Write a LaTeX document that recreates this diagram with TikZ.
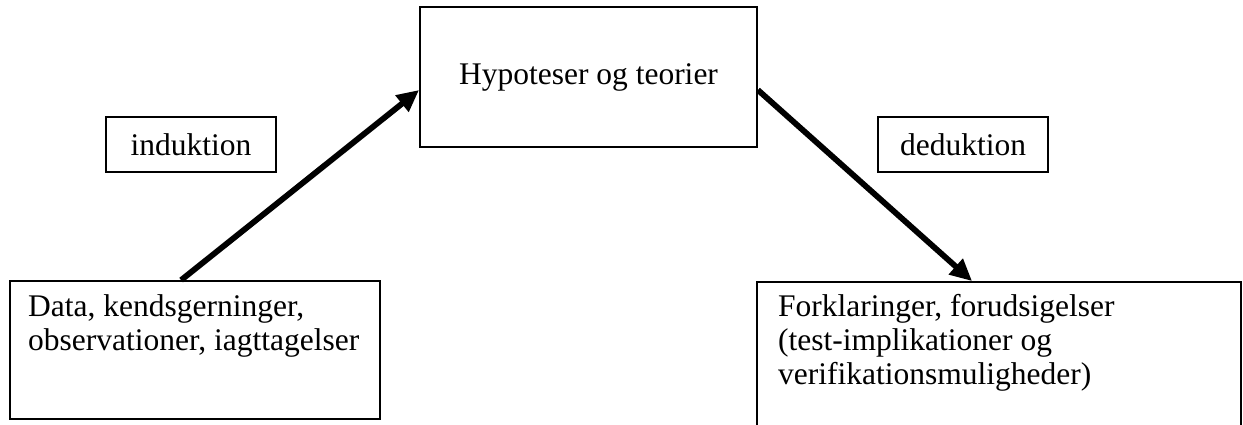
\documentclass[tikz,border=0pt]{standalone}
\usepackage{fontspec}
\setmainfont{Liberation Serif}
\usetikzlibrary{arrows.meta,calc}
\begin{document}
\begin{tikzpicture}[x=1pt,y=-1pt,
  every node/.style={font={\fontsize{31.5}{34}\selectfont}},
  frame/.style={draw=black,line width=1.8pt,rectangle,inner sep=0pt},
  label box/.style={frame,minimum width=170pt,minimum height=55pt},
  txt/.style={inner sep=0pt,align=left,anchor=north west},
  flow/.style={line width=5.8pt,-{Triangle[length=22pt,width=20pt]}}]
  \clip (0,0) rectangle (1243,425);
  \useasboundingbox (0,0) rectangle (1243,425);

  % main boxes
  \node[frame,minimum width=337pt,minimum height=140pt] (hyp) at (588.5,77) {Hypoteser og teorier};
  \node[frame,minimum width=370pt,minimum height=138pt] (data) at (195,350) {};
  \node[frame,minimum width=484pt,minimum height=180pt] (expl) at (999,372) {};

  % texts in the lower boxes
  \node[txt] (datatxt) at (28,294) {Data, kendsgerninger,\\observationer, iagttagelser};
  \node[txt] (expltxt) at (778,294) {Forklaringer, forudsigelser\\(test-implikationer og\\verifikationsmuligheder)};

  % labels of the two directions
  \node[label box] (ind) at (191,144.5) {induktion};
  \node[label box] (ded) at (963,144.5) {deduktion};

  % arrows
  \coordinate (s1) at ($(data.north west)+(172,0)$);
  \coordinate (e1) at ($(hyp.west)+(0,13)$);
  \coordinate (s2) at ($(hyp.east)+(0,13)$);
  \coordinate (e2) at ($(expl.north west)+(216,0)$);
  \draw[flow] (s1) -- (e1);
  \draw[flow] (s2) -- (e2);
\end{tikzpicture}
\end{document}
